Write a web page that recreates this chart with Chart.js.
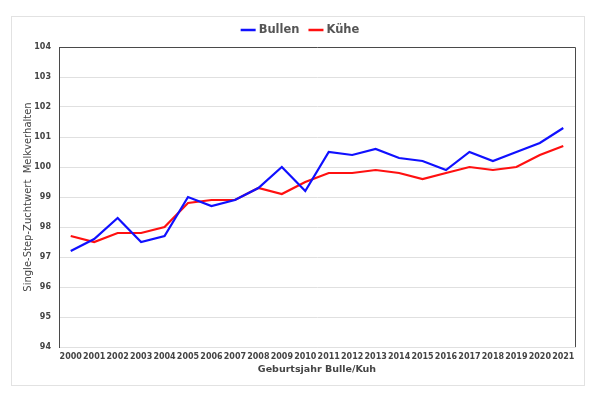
<!DOCTYPE html>
<html>
<head>
<meta charset="utf-8">
<script src="https://cdn.jsdelivr.net/npm/chart.js@4/dist/chart.umd.min.js"></script>
<style>
  html, body { margin: 0; padding: 0; background: #ffffff; }
  #wrap { width: 600px; height: 399px; position: relative; }
</style>
</head>
<body>
<div id="wrap"><canvas id="c" width="600" height="399"></canvas></div>
<script>
const years = ['2000','2001','2002','2003','2004','2005','2006','2007','2008','2009','2010',
               '2011','2012','2013','2014','2015','2016','2017','2018','2019','2020','2021'];
const bullen = [97.2, 97.6, 98.3, 97.5, 97.7, 99.0, 98.7, 98.9, 99.3, 100.0, 99.2,
                100.5, 100.4, 100.6, 100.3, 100.2, 99.9, 100.5, 100.2, 100.5, 100.8, 101.3];
const kuehe  = [97.7, 97.5, 97.8, 97.8, 98.0, 98.8, 98.9, 98.9, 99.3, 99.1, 99.5,
                99.8, 99.8, 99.9, 99.8, 99.6, 99.8, 100.0, 99.9, 100.0, 100.4, 100.7];
const seriesNames = ['Bullen', 'Kühe'];
const yTitle = 'Single-Step-Zuchtwert  Melkverhalten';
const xTitle = 'Geburtsjahr Bulle/Kuh';

const FONT = "'DejaVu Sans', Verdana, sans-serif";

const framePlugin = {
  id: 'frame',
  beforeDraw(chart) {
    const ctx = chart.ctx;
    ctx.save();
    ctx.fillStyle = '#ffffff';
    ctx.fillRect(0, 0, chart.width, chart.height);
    ctx.strokeStyle = '#e2e2e2';
    ctx.lineWidth = 1;
    ctx.strokeRect(11.5, 16.5, 573, 369);
    ctx.restore();
  },
  afterDatasetsDraw(chart) {
    const ctx = chart.ctx;
    const a = chart.chartArea;
    ctx.save();
    ctx.strokeStyle = '#4a4a4a';
    ctx.lineWidth = 1;
    ctx.beginPath();
    ctx.moveTo(Math.round(a.left) + 0.5, Math.round(a.top) + 0.5);
    ctx.lineTo(Math.round(a.right) + 0.5, Math.round(a.top) + 0.5);
    ctx.lineTo(Math.round(a.right) + 0.5, Math.round(a.bottom));
    ctx.stroke();
    ctx.restore();
  },
  afterDraw(chart) {
    // legend
    const ctx = chart.ctx;
    ctx.save();
    ctx.font = "bold 11.5px " + FONT;
    const lineLen = 15, gapTxt = 3, gapItem = 9;
    const items = chart.data.datasets.map(ds => ({
      label: ds.label, color: ds.borderColor, w: ctx.measureText(ds.label).width
    }));
    let total = 0;
    items.forEach((it, i) => { total += lineLen + gapTxt + it.w + (i ? gapItem : 0); });
    let x = chart.width / 2 - total / 2;
    const y = 30;
    items.forEach((it, i) => {
      if (i) x += gapItem;
      ctx.strokeStyle = it.color;
      ctx.lineWidth = 2.5;
      ctx.beginPath();
      ctx.moveTo(x, y);
      ctx.lineTo(x + lineLen, y);
      ctx.stroke();
      x += lineLen + gapTxt;
      ctx.fillStyle = '#555555';
      ctx.textBaseline = 'middle';
      ctx.textAlign = 'left';
      ctx.fillText(it.label, x, y + 0.5);
      x += it.w;
    });
    ctx.restore();
  }
};

new Chart(document.getElementById('c'), {
  type: 'line',
  data: {
    labels: years,
    datasets: [
      { label: seriesNames[0], data: bullen, borderColor: '#1010ff', backgroundColor: '#1010ff',
        borderWidth: 2.2, pointRadius: 0, tension: 0, fill: false },
      { label: seriesNames[1], data: kuehe, borderColor: '#ff1010', backgroundColor: '#ff1010',
        borderWidth: 2.2, pointRadius: 0, tension: 0, fill: false }
    ]
  },
  options: {
    responsive: false,
    animation: false,
    devicePixelRatio: 1,
    layout: { padding: { left: 11, right: 25, top: 47, bottom: 22 } },
    plugins: {
      legend: { display: false },
      tooltip: { enabled: false }
    },
    scales: {
      x: {
        offset: true,
        grid: { display: false, drawTicks: false },
        border: { display: true, color: '#e0e0e0', width: 1 },
        ticks: {
          autoSkip: false, maxRotation: 0, minRotation: 0, padding: 5,
          color: '#444444', font: { family: FONT, size: 8, weight: 'bold' }
        },
        title: {
          display: true, text: xTitle, color: '#444444',
          font: { family: FONT, size: 9.5, weight: 'bold' },
          padding: { top: 0, bottom: 2 }
        },
        afterFit(scale) { scale.height = 30; }
      },
      y: {
        min: 94, max: 104,
        ticks: {
          stepSize: 1, padding: 8,
          color: '#444444', font: { family: FONT, size: 8, weight: 'bold' }
        },
        grid: { color: '#e0e0e0', lineWidth: 1, drawTicks: false },
        border: { display: true, color: '#4a4a4a', width: 1 },
        title: {
          display: true, text: yTitle, color: '#444444',
          font: { family: FONT, size: 10, weight: 'normal' },
          padding: { top: 11, bottom: 0 }
        },
        afterFit(scale) { scale.width = 48; }
      }
    }
  },
  plugins: [framePlugin]
});
</script>
</body>
</html>
